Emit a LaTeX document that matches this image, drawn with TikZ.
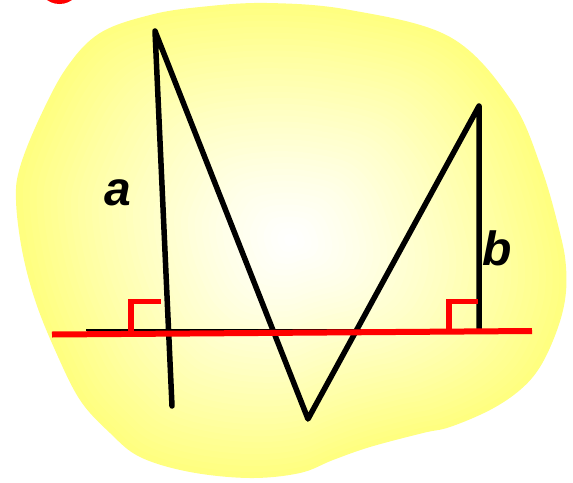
\documentclass[tikz,border=0pt]{standalone}
\usepackage{fontspec}
\setmainfont{Liberation Sans}
\definecolor{blobyellow}{RGB}{255,255,128}
\definecolor{mkred}{RGB}{255,0,0}
\begin{document}
\begin{tikzpicture}[x=1pt,y=-1pt,
  blackline/.style={line width=5.5pt,line join=round,line cap=round},
  redline/.style={mkred,line width=6pt},
  marker/.style={mkred,line width=5.5pt,line join=miter},
  lbl/.style={font=\fontsize{48}{48}\selectfont\bfseries\itshape,inner sep=0pt,anchor=base}]
\useasboundingbox (0,0) rectangle (573,482);
% blob: stepped radial gradient by nested scaled copies
\foreach \s in {1.00,0.975,...,0.02}{
  \pgfmathsetmacro{\pc}{100*(\s^1.25)}
  \fill[blobyellow!\pc!white, shift={(291,240)}, scale=\s] plot[smooth cycle,tension=0.6] coordinates {
 (-275,-40) (-269,10) (-256,60) (-236,110) (-211,160) (-181,193) (-151,217) (-101,232)
 (-41,238) (9,233) (42,220) (79,207) (132,193) (159,187) (199,170)
 (229,150) (249,127) (265,93) (274,60) (275,27) (269,-7) (250,-73)
 (220,-140) (159,-203) (59,-230) (-24,-237) (-91,-233) (-141,-225) (-191,-207) (-224,-173)
 (-251,-123) (-271,-73)};
}
% red dot at top left
\fill[mkred] (59.5,-17.5) circle (21.5);
% points
\coordinate (A0) at (172,406);
\coordinate (A1) at (155,31);
\coordinate (V) at (308,419);
\coordinate (B1) at (479,106);
\coordinate (B0) at (479,330);
\coordinate (H0) at (86,330);
\coordinate (H1) at (470,330);
\coordinate (R0) at (52,334.5);
\coordinate (R1) at (532,331);
% thin black base line
\draw[line width=2.7pt] (H0) -- (H1);
% zigzag
\draw[blackline] (A0) -- (A1) -- (V) -- (B1) -- (B0);
% right angle markers
\draw[marker] (131,332) -- (131,301.5) -- (161,301.5);
\draw[marker] (449,331) -- (449,301.5) -- (478,301.5);
% red line
\draw[redline] (R0) -- (R1);
% labels
\node[lbl] (la) at (118,205) {a};
\node[lbl] (lb) at (497,265) {b};
\end{tikzpicture}
\end{document}
